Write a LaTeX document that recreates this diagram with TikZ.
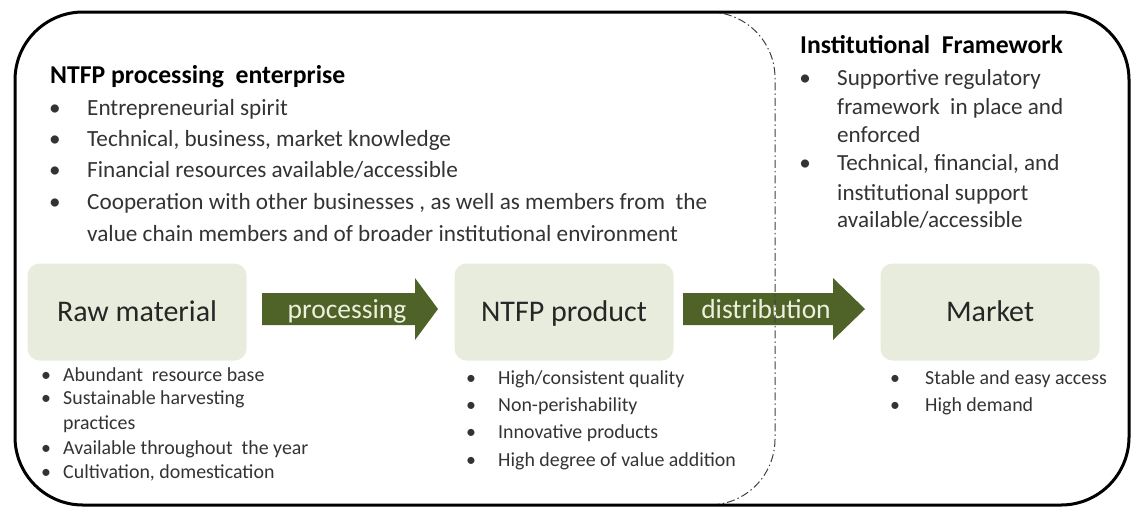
\documentclass[tikz,border=0pt]{standalone}
\usepackage{fontspec}
\setmainfont{Carlito}
\usetikzlibrary{positioning,calc}
\definecolor{boxfill}{HTML}{E8ECDC}
\definecolor{arrowgreen}{HTML}{4F6228}
\definecolor{arrowtext}{HTML}{EBF1DE}
\definecolor{bodytext}{HTML}{333333}
\tikzset{stage/.style={fill=boxfill,rounded corners=12pt,minimum width=219pt,minimum height=97pt,
        inner sep=0pt,text height=21pt,text depth=2pt,text=black!85,font=\fontsize{30}{34}\selectfont},
    flowtext/.style={inner sep=0pt,text height=19pt,text depth=1pt,text=arrowtext,font=\fontsize{27.5}{32}\selectfont},
    heading/.style={anchor=base west,inner sep=0pt,font=\fontsize{25.7}{30}\selectfont\bfseries},
    item/.style={anchor=base west,inner sep=0pt,text=bodytext},
    dot/.style={anchor=base,inner sep=0pt,text=bodytext}
}

\begin{document}
\begin{tikzpicture}[x=1pt,y=-1pt]
	\useasboundingbox (0,0) rectangle (1131,507);
	% stages
	\node[stage] (raw) at (137,312) {Raw material};
	\node[stage] (product) at (564,312) {NTFP product};
	\node[stage] (market) at (990,312) {Market};
	% block arrows
	\fill[arrowgreen] (262,293) -- (415,293) -- (415,278) -- (438,309) -- (415,340) -- (415,325) -- (262,325) -- cycle;
	\node[flowtext] (proc) at (347,309) {processing};
	\fill[arrowgreen] (683,293) -- (833,293) -- (833,278) -- (865,309) -- (833,340) -- (833,325) -- (683,325) -- cycle;
	\node[flowtext] (dist) at (766,309) {distribution};
	% enterprise
	\node[heading] (ent) at (50,83) {NTFP processing~~enterprise};
	\foreach \yy/\b/\txt [count=\i] in {115/1/Entrepreneurial spirit,
		146/1/{Technical, business, market knowledge},
		177/1/{Financial resources available/accessible},
		209/1/{Cooperation with other businesses , as well as members from~~the},
		241/0/value chain members and of broader institutional environment}{
		\node[item,font=\fontsize{23.2}{27}\selectfont] (ent\i) at (87,\yy) {\txt};
		\ifnum\b=1 \node[dot,font=\fontsize{23.2}{27}\selectfont] at (55,\yy) {\textbullet}; \fi
	}
	% institutional framework
	\node[heading] (inst) at (800,53) {Institutional~~Framework};
	\foreach \yy/\b/\txt [count=\i] in {85/1/Supportive regulatory,
		114/0/framework~~in place and,
		142/0/enforced,
		170/1/{Technical, financial, and},
		200/0/institutional support,
		227/0/{available/accessible}}{
		\node[item,font=\fontsize{23.1}{27}\selectfont] (inst\i) at (837,\yy) {\txt};
		\ifnum\b=1 \node[dot,font=\fontsize{23.1}{27}\selectfont] at (805,\yy) {\textbullet}; \fi
	}
	% raw material
	\foreach \yy/\b/\txt [count=\i] in {381/1/Abundant~~resource base,
		404/1/Sustainable harvesting,
		429/0/practices,
		454/1/Available throughout~~the year,
		478/1/{Cultivation, domestication}}{
		\node[item,font=\fontsize{19.9}{23}\selectfont] (rawl\i) at (63,\yy) {\txt};
		\ifnum\b=1 \node[dot,font=\fontsize{19.9}{23}\selectfont] at (46,\yy) {\textbullet}; \fi
	}
	% product
	\foreach \yy/\txt [count=\i] in {384/{High/consistent quality},
		411/Non-perishability,
		438/Innovative products,
		466/High degree of value addition}{
		\node[item,font=\fontsize{19.9}{23}\selectfont] (prodl\i) at (498,\yy) {\txt};
		\node[dot,font=\fontsize{19.9}{23}\selectfont] at (471,\yy) {\textbullet};
	}
	% market
	\foreach \yy/\txt [count=\i] in {384/Stable and easy access,
		411/High demand}{
		\node[item,font=\fontsize{19.9}{23}\selectfont] (markl\i) at (925,\yy) {\txt};
		\node[dot,font=\fontsize{19.9}{23}\selectfont] at (895,\yy) {\textbullet};
	}
	% enterprise boundary
	\draw[black!75,line width=1pt,dash pattern=on 8pt off 3pt on 1.5pt off 3pt,rounded corners=66pt]
		(600,12) -- (775,12) -- (775,505) -- (600,505);
	% outer frame
	\draw[line width=3pt,rounded corners=68pt] (15,12) rectangle (1129,505);
\end{tikzpicture}
\end{document}
